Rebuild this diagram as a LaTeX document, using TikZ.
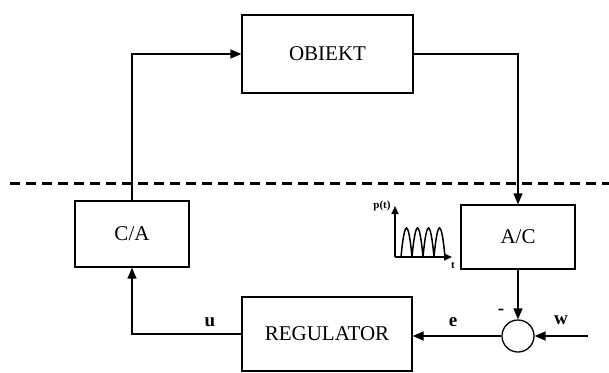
\documentclass[tikz,border=0pt]{standalone}
\usepackage{fontspec}
\setmainfont{Liberation Serif}
\usetikzlibrary{arrows.meta,positioning,calc}
\tikzset{
  blk/.style={draw, line width=1.3pt, align=center, font=\fontsize{21}{24}\selectfont, inner sep=0pt},
  sumc/.style={draw, circle, line width=1.3pt, minimum size=32pt, inner sep=0pt},
  arr/.style={-{Triangle[length=11pt,width=9pt]}, line width=1.3pt},
  lbl/.style={font=\fontsize{19}{22}\selectfont\bfseries, inner sep=0pt},
  dashline/.style={line width=3pt, dash pattern=on 10pt off 6pt},
}

\begin{document}
\begin{tikzpicture}[x=1pt,y=-1pt]
    \useasboundingbox (0,0) rectangle (609,372);
    \node[blk, minimum width=171pt, minimum height=78pt] (obj) at (327.5,54) {OBIEKT};
    \node[blk, minimum width=114pt, minimum height=66pt] (ca) at (132,234) {C/A};
    \node[blk, minimum width=114pt, minimum height=64pt] (ac) at (518,237) {A/C};
    \node[blk, minimum width=170pt, minimum height=74pt] (reg) at (327,334) {REGULATOR};
    \node[sumc] (sum) at (518,336) {};
    \coordinate (win) at (588,336);
    \draw[dashline] (10,183) -- (609,183);
    \draw[arr] (ca.north) |- (obj.west);
    \draw[arr] (obj.east) -| (ac.north);
    \draw[arr] (ac.south) -- (sum.north);
    \draw[arr] (win) -- (sum.east);
    \draw[arr] (sum.west) -- (sum.west -| reg.east);
    \draw[arr] (reg.west) -| (ca.south);
    \node[lbl] (u) at (210,322) {u};
    \node[lbl] (e) at (453,322) {e};
    \node[lbl] (minus) at (501,312) {-};
    \node[lbl] (w) at (561,320) {w};
    % sampled signal sketch
    \coordinate (po) at (395,257);
    \coordinate (py) at (395,206);
    \coordinate (px) at (452,257);
    \draw[-{Triangle[length=8pt,width=7pt]}, line width=1.5pt] (po) -- (py);
    \draw[-{Triangle[length=8pt,width=7pt]}, line width=1.5pt] (po) -- (px);
    \foreach \k in {0,1,2,3}
      \draw[line width=1.5pt] ($(401,257)+(11*\k,0)$) parabola bend +(5.5,-29) +(11,0);
    \node[font=\fontsize{11}{12}\selectfont\bfseries, inner sep=0pt] (pt) at (382,206) {p(t)};
    \node[font=\fontsize{11}{12}\selectfont\bfseries, inner sep=0pt] (tl) at (453,265) {t};
\end{tikzpicture}
\end{document}
